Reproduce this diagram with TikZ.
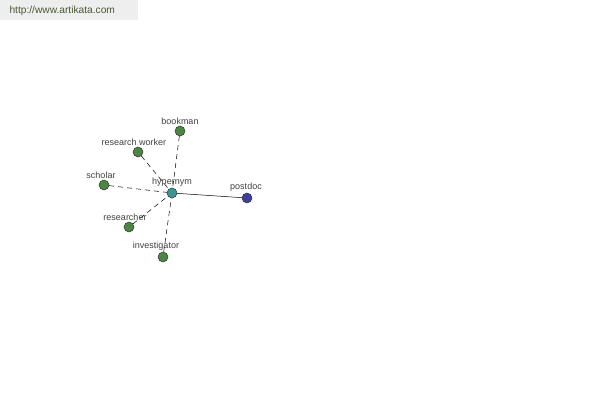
\documentclass[tikz,border=0pt]{standalone}
\usepackage{fontspec}
\setmainfont{Liberation Sans}
\definecolor{leafgreen}{RGB}{74,135,66}
\definecolor{hubteal}{RGB}{58,150,150}
\definecolor{docblue}{RGB}{62,62,160}
\definecolor{markgray}{RGB}{238,238,238}
\definecolor{marktext}{RGB}{70,90,50}
\tikzset{
  lab/.style={font=\fontsize{9}{10}\selectfont, text=black!75, label distance=-2pt},
  word/.style={circle, draw=black!80, line width=0.5pt, minimum size=10pt, inner sep=0pt},
  leaf/.style={word, fill=leafgreen},
  syn/.style={dashed, dash pattern=on 5pt off 4pt, line width=0.5pt},
}
\begin{document}
\begin{tikzpicture}[x=1pt, y=-1pt]
  \useasboundingbox (0,0) rectangle (600,400);

  % Watermark box in the corner
  \fill[markgray] (0,0) rectangle (138,20);
  \node[anchor=west, text=marktext, font=\fontsize{10.2}{12}\selectfont] (site) at (6,11) {http://www.artikata.com};

  % Centre and the linked words
  \node[word, fill=hubteal, label={[lab]above:hypernym}] (hyper) at (172,193) {};
  \node[word, fill=docblue, label={[lab, xshift=-1pt]above:postdoc}] (postdoc) at (247,198) {};

  \node[leaf, label={[lab]above:bookman}] (bookman) at (180,131) {};
  \node[leaf, label={[lab, xshift=-4pt]above:research worker}] (worker) at (138,152) {};
  \node[leaf, label={[lab, xshift=-3pt]above:scholar}] (scholar) at (104,185) {};
  \node[leaf, label={[lab, xshift=-4pt]above:researcher}] (researcher) at (129,227) {};
  \node[leaf, label={[lab, xshift=-7pt]above:investigator}] (investigator) at (163,257) {};

  % Dashed links to the centre
  \foreach \n in {bookman,worker,scholar,researcher,investigator} {
    \draw[syn] (\n) -- (hyper);
  }

  % Solid link to the hypernym
  \draw[line width=0.5pt] (hyper) -- (postdoc);
\end{tikzpicture}
\end{document}
